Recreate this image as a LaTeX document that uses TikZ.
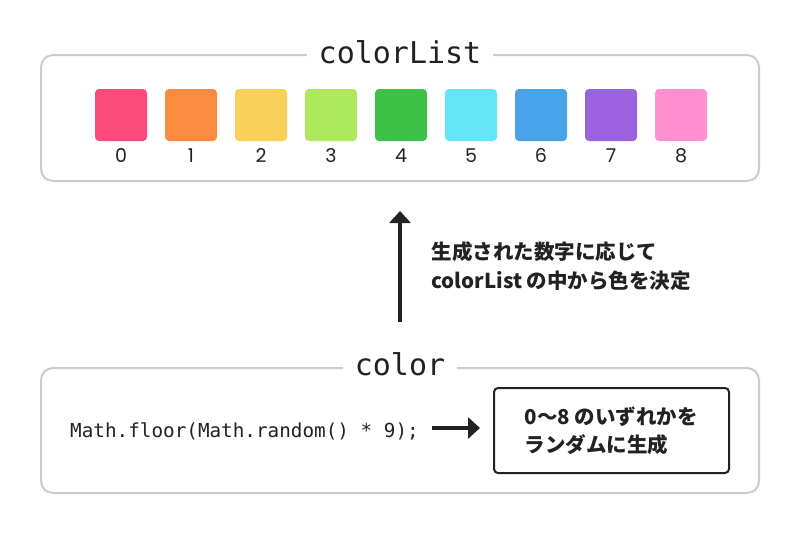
\documentclass[tikz,border=0pt]{standalone}
\usepackage{fontspec}
\setmainfont{Poppins}
\newfontfamily\cjk{Noto Sans CJK JP}
\newfontfamily\codefont{DejaVu Sans Mono}
\usetikzlibrary{arrows.meta}
\definecolor{frame}{HTML}{CCCCCC}
\definecolor{ink}{HTML}{222222}
\definecolor{c0}{HTML}{FC4A7A}
\definecolor{c1}{HTML}{FB8C3F}
\definecolor{c2}{HTML}{F9D15A}
\definecolor{c3}{HTML}{AEE85C}
\definecolor{c4}{HTML}{3BC247}
\definecolor{c5}{HTML}{63E5F5}
\definecolor{c6}{HTML}{47A2E8}
\definecolor{c7}{HTML}{9A62DC}
\definecolor{c8}{HTML}{FE8FD0}
\tikzset{
  panel/.style={draw=frame, line width=2pt, rounded corners=12pt, minimum width=718pt, inner sep=0pt},
  paneltitle/.style={fill=white, inner xsep=12pt, inner ysep=2pt, font=\codefont\fontsize{30}{30}\selectfont, text=ink},
  swatch/.style={minimum width=52pt, minimum height=52pt, rounded corners=4pt, inner sep=0pt},
  idx/.style={font=\fontsize{19}{19}\selectfont, text=ink},
  note/.style={font=\cjk\bfseries\fontsize{20.5}{29}\selectfont, text=ink, align=left, anchor=west},
  heavy/.style={-{Triangle[length=12pt,width=21pt]}, line width=4pt, draw=ink},
}
\begin{document}
\begin{tikzpicture}[x=1pt,y=-1pt]
\useasboundingbox[fill=white] (0,0) rectangle (800,533);
% top panel
\node[panel, minimum height=126pt] (list) at (400,118) {};
\node[paneltitle] (listtitle) at (400,52) {colorList};
\foreach \i in {0,...,8}{
  \node[swatch, fill=c\i] (s\i) at (121+70*\i,115) {};
  \node[idx] (n\i) at (121+70*\i,156) {\i};
}
% bottom panel
\node[panel, minimum height=125pt] (color) at (400,430.5) {};
\node[paneltitle] (colortitle) at (400,364) {color};
\node[font=\codefont\fontsize{19.3}{19.3}\selectfont, text=ink, anchor=west, inner sep=0pt] (code) at (70,431) {Math.floor(Math.random() * 9);};
\node[draw=ink, line width=2pt, rounded corners=4pt, minimum width=235pt, minimum height=85pt, inner sep=0pt] (gen) at (611.5,430.5) {};
\node[note, font=\cjk\bfseries\fontsize{20.5}{28}\selectfont] (gentext) at (521,430.5) {0～8 のいずれかを\\ランダムに生成};
% arrows
\coordinate (codeend) at (432,428);
\coordinate (codetip) at (480,428);
\draw[heavy] (codeend) -- (codetip);
\coordinate (upstart) at (400,322);
\coordinate (upend) at (400,211);
\draw[heavy] (upstart) -- (upend);
\node[note] (explain) at (428,266.5) {生成された数字に応じて\\colorList の中から色を決定};
\end{tikzpicture}
\end{document}
